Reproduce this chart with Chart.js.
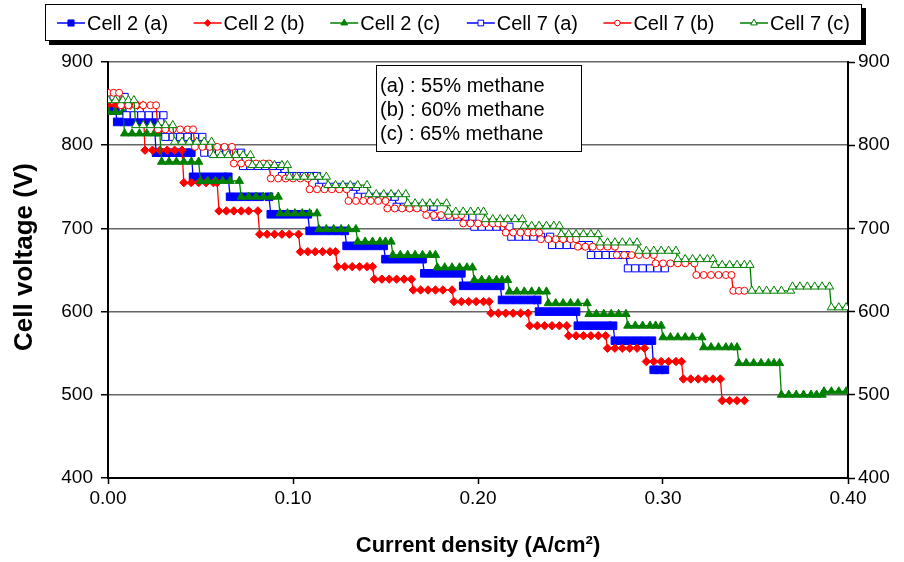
<!DOCTYPE html>
<html>
<head>
<meta charset="utf-8">
<script src="https://cdn.jsdelivr.net/npm/chart.js@4.4.0/dist/chart.umd.min.js"></script>
<style>
html,body{margin:0;padding:0;background:#fff;}
#wrap{width:904px;height:562px;position:relative;}
</style>
</head>
<body>
<div id="wrap"><canvas id="c" width="904" height="562"></canvas></div>
<script>
// ---- data ----
const seriesLabels = ['Cell 2 (a)', 'Cell 2 (b)', 'Cell 2 (c)', 'Cell 7 (a)', 'Cell 7 (b)', 'Cell 7 (c)'];
const xTickLabels = ['0.00', '0.10', '0.20', '0.30', '0.40'];
const yTickLabels = [400, 500, 600, 700, 800, 900];
const noteLines = ['(a) : 55% methane', '(b) : 60% methane', '(c) : 65% methane'];
const xTitle = 'Current density (A/cm²)';
const yTitle = 'Cell voltage (V)';

// Cell 2 (a): voltage of each plateau and the current densities measured on it
const cell2aV = [842, 828, 791, 762, 738, 717, 697, 679, 663, 646, 631, 614, 600, 583, 565, 530];
const cell2aX = [
 [0.000,0.002,0.004],
 [0.005,0.009,0.013,0.017,0.021,0.025],
 [0.026,0.030,0.034,0.038,0.042,0.045],
 [0.046,0.050,0.054,0.058,0.062,0.065],
 [0.066,0.070,0.074,0.078,0.082,0.087],
 [0.088,0.092,0.096,0.100,0.104,0.108],
 [0.109,0.113,0.117,0.121,0.125,0.128],
 [0.129,0.133,0.137,0.141,0.145,0.149],
 [0.150,0.154,0.158,0.162,0.166,0.170],
 [0.171,0.175,0.179,0.183,0.187,0.191],
 [0.192,0.196,0.200,0.204,0.208,0.212],
 [0.213,0.217,0.221,0.225,0.229,0.232],
 [0.233,0.237,0.241,0.245,0.249,0.253],
 [0.254,0.258,0.262,0.266,0.270,0.273],
 [0.274,0.278,0.282,0.286,0.290,0.294],
 [0.295,0.298,0.301]
];

// Cell 2 (b)
const cell2bV = [848, 794, 755, 721, 693, 672, 654, 639, 626, 612, 598, 583, 571, 556, 540, 519, 493];
const cell2bX = [
 [0.000,0.004,0.008,0.012,0.016,0.019],
 [0.020,0.024,0.028,0.032,0.036,0.040],
 [0.041,0.045,0.049,0.053,0.057,0.059],
 [0.060,0.064,0.068,0.072,0.076,0.081],
 [0.082,0.086,0.090,0.094,0.098,0.103],
 [0.104,0.108,0.112,0.116,0.120,0.123],
 [0.124,0.128,0.132,0.136,0.140,0.143],
 [0.144,0.148,0.152,0.156,0.160,0.164],
 [0.165,0.169,0.173,0.177,0.181,0.186],
 [0.187,0.191,0.195,0.199,0.203,0.206],
 [0.207,0.211,0.215,0.219,0.223,0.227],
 [0.228,0.232,0.236,0.240,0.244,0.248],
 [0.249,0.253,0.257,0.261,0.265,0.269],
 [0.270,0.274,0.278,0.282,0.286,0.290],
 [0.291,0.295,0.299,0.303,0.307,0.310],
 [0.311,0.315,0.319,0.323,0.327,0.331],
 [0.332,0.336,0.340,0.344]
];

// Cell 2 (c)
const cell2cV = [840, 814, 780, 757, 738, 718, 699, 684, 668, 653, 638, 624, 610, 597, 583, 569, 557, 538, 500, 504];
const cell2cX = [
 [0.000,0.004,0.008],
 [0.009,0.013,0.017,0.021,0.025,0.028],
 [0.029,0.033,0.037,0.041,0.045,0.049],
 [0.050,0.054,0.058,0.062,0.066,0.071],
 [0.072,0.076,0.080,0.084,0.088,0.092],
 [0.093,0.097,0.101,0.105,0.109,0.113],
 [0.114,0.118,0.122,0.126,0.130,0.134],
 [0.135,0.139,0.143,0.147,0.150,0.153],
 [0.154,0.158,0.162,0.166,0.170,0.174,0.177],
 [0.178,0.182,0.186,0.190,0.194,0.197],
 [0.198,0.202,0.206,0.210,0.213,0.216],
 [0.217,0.221,0.225,0.229,0.233,0.237],
 [0.238,0.242,0.246,0.250,0.254,0.259],
 [0.260,0.264,0.268,0.272,0.276,0.280],
 [0.281,0.285,0.289,0.293,0.296,0.299],
 [0.300,0.304,0.308,0.312,0.316,0.321],
 [0.322,0.326,0.330,0.334,0.337,0.340],
 [0.341,0.345,0.349,0.353,0.357,0.360,0.363],
 [0.364,0.368,0.372,0.376,0.380,0.383,0.386],
 [0.387,0.391,0.395,0.399]
];

// Cell 7 (a)
const cell7aV = [858, 836, 810, 791, 775, 763, 750, 738, 726, 714, 702, 690, 680, 668, 652];
const cell7aX = [
 [0.000,0.003,0.006,0.009],
 [0.010,0.014,0.018,0.022,0.026,0.030],
 [0.031,0.035,0.039,0.043,0.047,0.051],
 [0.052,0.056,0.060,0.064,0.068,0.072],
 [0.073,0.077,0.081,0.085,0.089,0.093],
 [0.094,0.098,0.102,0.106,0.110,0.113],
 [0.114,0.118,0.122,0.126,0.130,0.134],
 [0.135,0.139,0.143,0.147,0.151,0.155],
 [0.156,0.160,0.164,0.168,0.172,0.176],
 [0.177,0.181,0.185,0.189,0.193,0.197],
 [0.198,0.202,0.206,0.210,0.214,0.217],
 [0.218,0.222,0.226,0.230,0.234,0.239],
 [0.240,0.244,0.248,0.252,0.256,0.260],
 [0.261,0.265,0.269,0.273,0.277,0.280],
 [0.281,0.285,0.289,0.293,0.297,0.301]
];

// Cell 7 (b)
const cell7bV = [863, 848, 819, 798, 778, 760, 747, 733, 724, 716, 706, 695, 687, 678, 668, 658, 644, 625];
const cell7bX = [
 [0.000,0.003,0.006],
 [0.007,0.011,0.015,0.019,0.023,0.026],
 [0.027,0.031,0.035,0.039,0.043,0.046],
 [0.047,0.051,0.055,0.059,0.063,0.067],
 [0.068,0.072,0.076,0.080,0.084,0.087],
 [0.088,0.092,0.096,0.100,0.104,0.108],
 [0.109,0.113,0.117,0.121,0.125,0.129],
 [0.130,0.134,0.138,0.142,0.146,0.150],
 [0.151,0.155,0.159,0.163,0.167,0.171],
 [0.172,0.176,0.180,0.184,0.188,0.191],
 [0.192,0.196,0.200,0.204,0.208,0.211,0.214],
 [0.215,0.219,0.223,0.227,0.230,0.233],
 [0.234,0.238,0.242,0.246,0.250,0.253],
 [0.254,0.258,0.262,0.266,0.270,0.274],
 [0.275,0.279,0.283,0.287,0.291,0.295],
 [0.296,0.300,0.304,0.308,0.312,0.317],
 [0.318,0.322,0.326,0.330,0.334,0.337],
 [0.338,0.341,0.344]
];

// Cell 7 (c)
const cell7cV = [854, 824, 804, 788, 776, 762, 752, 741, 730, 720, 711, 703, 693, 683, 673, 663, 656, 625, 630, 605];
const cell7cX = [
 [0.000,0.004,0.008,0.011,0.014],
 [0.015,0.019,0.023,0.027,0.031,0.035],
 [0.036,0.040,0.044,0.048,0.052,0.056],
 [0.057,0.061,0.065,0.069,0.073,0.077],
 [0.078,0.082,0.086,0.090,0.094,0.097],
 [0.098,0.102,0.106,0.110,0.114,0.118],
 [0.119,0.123,0.127,0.131,0.135,0.140],
 [0.141,0.145,0.149,0.153,0.157,0.161],
 [0.162,0.166,0.170,0.174,0.178,0.183],
 [0.184,0.188,0.192,0.196,0.200,0.203],
 [0.204,0.208,0.212,0.216,0.220,0.224],
 [0.225,0.229,0.233,0.237,0.241,0.244],
 [0.245,0.249,0.253,0.257,0.261,0.265],
 [0.266,0.270,0.274,0.278,0.282,0.286],
 [0.287,0.291,0.295,0.299,0.303,0.307],
 [0.308,0.312,0.316,0.320,0.324,0.327],
 [0.328,0.332,0.336,0.340,0.344,0.347],
 [0.348,0.352,0.356,0.360,0.364,0.369],
 [0.370,0.374,0.378,0.382,0.386,0.390],
 [0.391,0.395,0.399]
];

// ---- build points from the arrays ----
function toPoints(vs, xs) {
  const pts = [];
  xs.forEach((row, i) => row.forEach(x => pts.push({x: x, y: vs[i]})));
  return pts;
}

const BLUE = '#0000FF', RED = '#FF0000', GREEN = '#008000';
const styles = [
  {color: BLUE,  shape: 'rect',     fill: BLUE,  r: 5.4},
  {color: RED,   shape: 'rectRot',  fill: RED,   r: 4.2},
  {color: GREEN, shape: 'triangle', fill: GREEN, r: 4.8},
  {color: BLUE,  shape: 'rect',     fill: '#FFFFFF', r: 5.0},
  {color: RED,   shape: 'circle',   fill: '#FFFFFF', r: 3.5},
  {color: GREEN, shape: 'triangle', fill: '#FFFFFF', r: 4.8}
];
const allData = [
  toPoints(cell2aV, cell2aX), toPoints(cell2bV, cell2bX), toPoints(cell2cV, cell2cX),
  toPoints(cell7aV, cell7aX), toPoints(cell7bV, cell7bX), toPoints(cell7cV, cell7cX)
];

const datasets = allData.map((d, i) => ({
  label: seriesLabels[i],
  data: d,
  borderColor: styles[i].color,
  backgroundColor: styles[i].fill,
  pointStyle: styles[i].shape,
  pointRadius: styles[i].r,
  pointHoverRadius: styles[i].r,
  pointBorderWidth: 1,
  pointBorderColor: styles[i].color,
  pointBackgroundColor: styles[i].fill,
  borderWidth: 1.3,
  tension: 0,
  fill: false,
  order: 6 - i
}));

Chart.defaults.font.family = "'Liberation Sans', Arial, sans-serif";
Chart.defaults.color = '#000';

function drawMarker(ctx, shape, x, y, r, fill, stroke) {
  ctx.beginPath();
  if (shape === 'rect') {
    const s = r * Math.SQRT1_2;
    ctx.rect(x - s, y - s, 2 * s, 2 * s);
  } else if (shape === 'rectRot') {
    ctx.moveTo(x, y - r); ctx.lineTo(x + r, y); ctx.lineTo(x, y + r); ctx.lineTo(x - r, y); ctx.closePath();
  } else if (shape === 'triangle') {
    let a = 0;
    ctx.moveTo(x + Math.sin(a) * r, y - Math.cos(a) * r);
    a += 2 * Math.PI / 3;
    ctx.lineTo(x + Math.sin(a) * r, y - Math.cos(a) * r);
    a += 2 * Math.PI / 3;
    ctx.lineTo(x + Math.sin(a) * r, y - Math.cos(a) * r);
    ctx.closePath();
  } else {
    ctx.arc(x, y, r, 0, Math.PI * 2);
  }
  ctx.fillStyle = fill; ctx.fill();
  ctx.strokeStyle = stroke; ctx.lineWidth = 1; ctx.stroke();
}

const decorPlugin = {
  id: 'decor',
  afterDraw(chart) {
    const ctx = chart.ctx;
    ctx.save();
    // legend box with shadow
    ctx.fillStyle = '#000';
    ctx.fillRect(49, 8, 817, 37);
    ctx.fillStyle = '#fff';
    ctx.fillRect(45, 4, 817, 37);
    ctx.strokeStyle = '#000'; ctx.lineWidth = 1;
    ctx.strokeRect(45.5, 4.5, 816, 36);
    ctx.font = "20px 'Liberation Sans', Arial, sans-serif";
    ctx.textBaseline = 'middle';
    ctx.textAlign = 'left';
    seriesLabels.forEach((lab, i) => {
      const x0 = 57 + i * 136.6, y = 23;
      ctx.strokeStyle = styles[i].color; ctx.lineWidth = 1.5;
      ctx.beginPath(); ctx.moveTo(x0, y); ctx.lineTo(x0 + 28, y); ctx.stroke();
      drawMarker(ctx, styles[i].shape, x0 + 14, y, styles[i].r * 0.8, styles[i].fill, styles[i].color);
      ctx.fillStyle = '#000';
      ctx.fillText(lab, x0 + 30, y + 1);
    });
    // note box
    ctx.fillStyle = '#fff';
    ctx.fillRect(376, 65, 206, 87);
    ctx.strokeStyle = '#000'; ctx.lineWidth = 1;
    ctx.strokeRect(376.5, 65.5, 205, 86);
    ctx.fillStyle = '#000';
    noteLines.forEach((t, i) => ctx.fillText(t, 380, 86 + i * 24));
    // y axis title
    ctx.save();
    ctx.translate(25, 257);
    ctx.rotate(-Math.PI / 2);
    ctx.font = "bold 26px 'Liberation Sans', Arial, sans-serif";
    ctx.textAlign = 'center';
    ctx.textBaseline = 'middle';
    ctx.fillText(yTitle, 0, 0);
    ctx.restore();
    ctx.restore();
  }
};

new Chart(document.getElementById('c'), {
  type: 'line',
  data: {datasets: datasets},
  plugins: [decorPlugin],
  options: {
    responsive: false,
    animation: false,
    devicePixelRatio: 1,
    layout: {padding: {top: 62, left: 0, right: 0, bottom: 0}},
    plugins: {legend: {display: false}, tooltip: {enabled: false}},
    scales: {
      x: {
        type: 'linear', min: 0, max: 0.4,
        afterFit: s => { s.height = 84; },
        afterBuildTicks: s => { s.ticks = xTickLabels.map(v => ({value: parseFloat(v)})); },
        ticks: {callback: (v, i) => xTickLabels[i], font: {size: 19}, color: '#000', padding: 3, maxRotation: 0},
        grid: {drawOnChartArea: false, drawTicks: true, tickLength: 6, tickColor: '#000', tickWidth: 1.5},
        border: {display: true, color: '#000', width: 2},
        title: {display: true, text: xTitle, font: {size: 22, weight: 'bold'}, color: '#000', padding: {top: 0, bottom: 3}}
      },
      y: {
        type: 'linear', position: 'left', min: 400, max: 900,
        afterFit: s => { s.width = 108; },
        afterBuildTicks: s => { s.ticks = yTickLabels.map(v => ({value: v})); },
        ticks: {font: {size: 19}, color: '#000', padding: 8},
        grid: {color: '#666', lineWidth: 1.5, drawTicks: true, tickLength: 7, tickColor: '#000', tickWidth: 1.5},
        border: {display: true, color: '#000', width: 2}
      },
      y2: {
        type: 'linear', position: 'right', min: 400, max: 900,
        afterFit: s => { s.width = 56; },
        afterBuildTicks: s => { s.ticks = yTickLabels.map(v => ({value: v})); },
        ticks: {font: {size: 19}, color: '#000', padding: 3},
        grid: {drawOnChartArea: false, drawTicks: true, tickLength: 7, tickColor: '#000', tickWidth: 1.5},
        border: {display: true, color: '#000', width: 2}
      }
    }
  }
});
</script>
</body>
</html>
